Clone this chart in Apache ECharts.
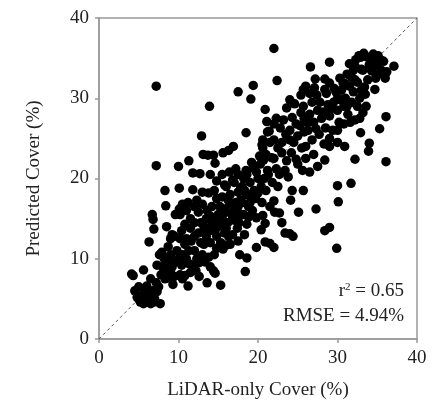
<!DOCTYPE html>
<html>
<head>
<meta charset="utf-8">
<script src="https://cdn.jsdelivr.net/npm/echarts@6/dist/echarts.min.js"></script>
<style>
  html, body { margin: 0; padding: 0; background: #fff; }
  #chart { width: 434px; height: 419px; }
</style>
</head>
<body>
<div id="chart"></div>
<script>
// axis ranges / labels
var axisMin = 0, axisMax = 40, axisStep = 10;
var xName = 'LiDAR-only Cover (%)';
var yName = 'Predicted Cover (%)';
var statR2 = '0.65';
var statRmse = '4.94%';

// scatter points [LiDAR-only, predicted]
var outliers = [
  [22.0,36.2],[7.2,31.5],[17.5,30.8],[19.4,31.6],[19.1,29.9],[13.9,29.0],[22.4,32.2],
  [12.9,25.3],[18.5,25.7],[7.2,21.6],[6.7,15.5],[6.8,14.9],[6.9,13.7],[6.3,12.1],
  [8.3,18.5],[8.4,16.6],[10.0,21.5],[10.1,18.8],[11.3,22.2],[11.8,20.7],[12.7,20.6],
  [13.1,23.0],[13.7,22.9],[14.4,22.9],[14.0,20.5],[14.6,21.9],[15.6,23.2],[16.3,23.5],
  [16.9,24.0],[4.1,8.1],[4.3,7.9],[5.6,8.6],[7.7,4.4],[18.4,8.4],[18.6,10.1],[15.3,6.7],
  [13.6,7.0],[14.4,8.5],[11.2,6.6],[10.8,7.9],[29.9,11.3],[30.1,17.1],[30.0,19.1],
  [31.7,19.4],[27.3,16.2],[28.4,13.5],[29.0,13.9],[25.1,15.8],[25.7,18.5],[24.1,17.3],
  [24.3,18.5],[24.0,13.1],[24.4,12.8],[23.4,13.2],[23.0,14.5],[22.7,15.7],[22.1,15.8],
  [22.0,17.2],[22.0,11.4],[21.5,11.9],[20.9,12.1],[19.8,11.4],[20.4,13.6],[20.9,14.4],
  [19.8,15.1],[17.7,10.5],[16.0,11.7],[36.1,22.1],[32.2,22.4],[30.9,24.0],[34.0,24.4],
  [33.9,23.4],[35.3,26.2],[36.1,27.7],[32.9,25.7],[37.1,34.0],[29.0,34.5],[26.6,33.9],
  [27.2,32.4],[28.4,32.4],[20.9,28.6],[22.3,27.5],[21.1,27.1],[21.4,25.9],[20.6,24.8],
  [20.6,23.8],[24.0,29.8],[23.6,28.8],[25.4,30.4],[25.7,31.1],[27.1,31.3]
];

var lowBand = [
  [4.5,6.0],[5.0,5.0],[5.2,4.6],[5.5,5.5],[6.0,4.8],[6.2,5.3],[6.5,4.4],[5.0,6.5],
  [6.8,6.0],[7.0,5.0],[7.2,7.0],[6.5,7.5],[7.5,6.5],[5.8,6.0],[4.8,5.2],[6.0,6.6],
  [7.3,5.9],[5.6,4.4],[6.9,4.6],[7.8,8.0],[8.0,9.0],[8.5,8.5],[8.3,7.5],[9.0,8.3],
  [9.5,7.8],[8.8,9.5],[7.6,10.5],[7.9,10.8],[9.2,9.0],[9.6,9.6],[10.2,8.0],[10.5,7.5],
  [8.2,10.0],[9.0,10.5],[7.3,9.2],[8.5,14.0],[9.0,12.5],[9.6,15.5],[10.1,16.2],
  [11.5,8.3],[10.4,9.2],[12.2,8.5],[9.8,11.0],[8.7,11.5],[12.6,7.8],[11.3,9.4],
  [8.8,7.6],[9.3,6.8]
];

var midBand = [
  [10.0,10.0],[10.5,10.5],[11.0,10.0],[11.3,11.0],[10.8,11.8],[12.0,11.0],[12.3,10.0],
  [12.6,9.5],[11.7,9.2],[10.2,12.5],[9.5,12.8],[9.2,13.0],[11.0,12.5],[12.0,12.8],
  [12.8,12.0],[13.0,10.5],[13.3,9.6],[10.4,13.5],[11.5,13.8],[12.5,13.2],[13.5,12.8],
  [14.0,12.0],[13.8,10.2],[14.5,10.5],[14.0,9.0],[14.6,8.2],[10.2,15.5],[11.0,16.0],
  [11.5,15.0],[12.0,16.5],[12.5,15.8],[13.0,16.8],[12.0,14.5],[11.2,17.0],[13.5,15.0],
  [13.2,14.0],[14.0,15.3],[10.5,16.8],[12.3,17.3],[13.8,18.2],[14.2,16.5],[14.8,17.5],
  [11.8,18.6],[13.0,18.3],[14.0,13.5],[15.0,14.0],[15.5,15.0],[16.0,15.8],[14.5,14.8],
  [15.2,16.5],[16.5,16.8],[17.0,16.0],[16.2,14.5],[17.0,14.8],[15.8,13.2],[16.8,13.0],
  [17.8,15.5],[18.0,17.0],[15.5,17.7],[16.5,18.0],[17.5,18.3],[14.8,12.8],[15.3,12.0],
  [16.5,11.8],[17.5,12.2],[18.3,13.0],[18.6,14.3],[17.4,13.8],[15.8,19.2],[14.8,19.7],
  [15.5,20.5],[14.2,14.2],[15.0,15.5],[15.8,16.2],[16.3,17.2],[17.2,17.0],[17.8,18.8],
  [18.3,18.5],[19.0,18.0],[16.8,15.2],[17.5,16.5],[15.4,14.2],[14.6,13.5],[16.0,13.8],
  [13.4,13.4],[12.8,14.5],[11.6,12.2],[10.8,14.3],[13.6,16.0],[14.5,18.5],[13.2,11.8],
  [14.8,11.3],[16.3,12.8],[15.6,11.2],[17.6,14.5],[18.8,15.2]
];

var upperBand = [
  [16.0,19.0],[17.0,19.5],[17.5,20.5],[18.0,19.0],[18.5,18.0],[19.0,19.5],[19.5,18.5],
  [18.6,20.5],[19.4,21.3],[20.0,20.0],[20.4,19.0],[19.7,17.5],[18.8,16.5],[20.5,17.0],
  [21.0,18.5],[21.3,20.5],[20.3,21.8],[19.2,22.0],[17.2,21.2],[16.4,20.8],[17.8,17.3],
  [18.2,15.5],[19.3,16.0],[20.6,15.4],[21.5,16.5],[21.8,19.5],[22.3,21.2],[21.7,22.6],
  [21.0,23.0],[21.5,24.5],[22.0,22.5],[22.5,23.8],[23.0,24.5],[23.5,25.5],[22.8,26.3],
  [24.0,26.0],[24.5,24.5],[25.0,25.3],[24.2,23.2],[23.6,22.2],[22.7,20.5],[23.4,21.0],
  [24.8,22.4],[25.5,23.8],[25.8,25.8],[21.2,25.8],[22.0,26.8],[23.2,27.3],[24.3,27.6],
  [25.3,26.6],[20.7,22.3],[18.5,21.0],[20.2,22.8],[21.2,21.0],[20.5,24.2],
  [16.8,19.8],[18.2,20.0],[19.8,20.8],[20.8,20.0],[19.0,17.0],[20.0,18.2],
  [23.0,23.2],[24.0,24.8],[24.8,26.8],[26.0,24.0],[25.0,21.8],[23.8,20.2],[22.5,19.0],
  [22.0,24.8]
];

var topBand = [
  [25.8,27.5],[26.5,28.0],[27.0,27.0],[27.5,28.5],[28.0,27.5],[26.3,26.0],[26.8,24.8],
  [27.7,25.5],[28.5,26.3],[29.0,27.8],[28.8,29.2],[27.8,29.5],[26.8,29.5],[25.7,29.0],
  [29.5,29.5],[30.0,28.5],[29.4,26.0],[28.3,24.3],[29.0,24.0],[30.0,24.5],[27.0,23.0],
  [26.0,22.5],[25.6,21.0],[27.5,21.5],[28.4,22.3],[26.5,20.8],[30.0,30.0],[30.5,31.0],
  [31.0,30.0],[31.5,31.5],[30.8,29.0],[31.8,29.5],[32.0,30.8],[32.5,29.0],[31.3,28.0],
  [32.2,27.3],[30.2,27.0],[29.6,31.2],[30.3,32.5],[31.2,33.0],[32.5,32.0],[33.0,31.0],
  [33.5,30.5],[33.8,32.3],[33.0,33.6],[32.2,34.0],[34.3,33.4],[34.8,32.5],[35.5,33.5],
  [36.0,32.5],[33.6,29.0],[32.8,27.5],[30.8,26.8],[32.3,34.8],[32.9,35.1],[33.6,35.2],
  [34.0,34.2],[34.5,35.5],[35.0,34.1],[35.8,34.6],[36.2,33.3],[33.2,33.5],[32.0,33.5],
  [35.1,35.3],[31.5,34.3],[32.7,35.3],[33.3,35.6],[34.5,34.8],[35.3,33.1],[35.4,34.8],
  [34.7,31.1],[33.4,31.4],[32.2,32.3],[30.7,31.9],[29.0,31.9],[28.4,31.1],[26.5,30.6],
  [25.4,28.2],[26.2,27.0],[27.3,26.2],[28.2,28.3],[29.2,28.7],[30.4,29.8],[31.2,29.0],
  [30.0,26.0],[29.0,25.0],[27.4,30.4],[28.6,30.6],[29.8,30.8],[31.0,31.8],[31.8,32.6],
  [32.8,30.0],[33.2,28.2],[31.6,27.0],[24.6,29.3],[26.0,31.5]
];

var points = outliers.concat(lowBand, midBand, upperBand, topBand);
var diagonal = [[axisMin, axisMin], [axisMax, axisMax]];

var serif = '"Liberation Serif", "DejaVu Serif", serif';
var chart = echarts.init(document.getElementById('chart'), null, { renderer: 'canvas' });

function axisBase(name, gap) {
    return {
        type: 'value',
        min: axisMin,
        max: axisMax,
        interval: axisStep,
        name: name,
        nameLocation: 'middle',
        nameGap: gap,
        nameTextStyle: { fontFamily: serif, fontSize: 19, color: '#222' },
        axisLine: { show: true, lineStyle: { color: '#999', width: 1.5 } },
        axisTick: { show: true, inside: false, length: 4, lineStyle: { color: '#999', width: 1.5 } },
        axisLabel: { fontFamily: serif, fontSize: 19, color: '#222', margin: 10 },
        splitLine: { show: false }
    };
}

var option = {
    animation: false,
    backgroundColor: '#fff',
    grid: {
        left: 99, right: 17, top: 18, bottom: 80,
        show: true, borderColor: '#999', borderWidth: 1.5
    },
    xAxis: axisBase(xName, 42),
    yAxis: axisBase(yName, 55),
    series: [{
        type: 'line',
        data: diagonal,
        symbol: 'none',
        lineStyle: { color: '#555', width: 1, type: [3, 3] },
        silent: true,
        z: 1
    }, {
        type: 'scatter',
        data: points,
        symbolSize: 9.5,
        itemStyle: { color: '#000', opacity: 1 },
        z: 2
    }],
    graphic: [{
        type: 'text',
        right: 30,
        top: 282,
        style: {
            text: 'r{sup|2} = ' + statR2,
            fontFamily: serif, fontSize: 19, fill: '#222',
            rich: { sup: { fontFamily: serif, fontSize: 11, fill: '#222', verticalAlign: 'top', padding: [0, 0, 8, 0] } }
        }
    }, {
        type: 'text',
        right: 30,
        top: 307,
        style: { text: 'RMSE = ' + statRmse, fontFamily: serif, fontSize: 19, fill: '#222' }
    }]
};
chart.setOption(option);
</script>
</body>
</html>
